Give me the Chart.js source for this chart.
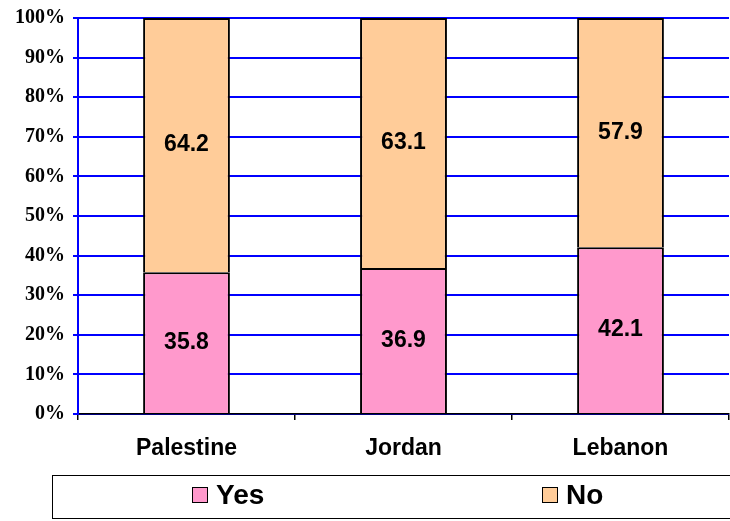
<!DOCTYPE html>
<html>
<head>
<meta charset="utf-8">
<script src="https://cdn.jsdelivr.net/npm/chart.js@4/dist/chart.umd.min.js"></script>
<style>
  html, body { margin: 0; padding: 0; background: #fff; overflow: hidden; }
  #wrap { position: relative; width: 730px; height: 521px; overflow: hidden; }
  #legend {
    position: absolute; left: 52px; top: 475px; width: 720px; height: 44px;
    border: 1.5px solid #000; box-sizing: border-box;
    font: bold 28px "Liberation Sans", Arial, sans-serif;
  }
  #legend .item { position: absolute; top: 3px; display: flex; align-items: center; }
  #legend .box { width: 14px; height: 14px; border: 1.5px solid #000; margin-right: 8px; }
</style>
</head>
<body>
<div id="wrap">
  <canvas id="c" width="730" height="521"></canvas>
  <div id="legend"></div>
</div>
<script>
const categories = ['Palestine', 'Jordan', 'Lebanon'];
const yesValues = [35.8, 36.9, 42.1];
const noValues = [64.2, 63.1, 57.9];
const yTicks = [0, 10, 20, 30, 40, 50, 60, 70, 80, 90, 100];

const SANS = '"Liberation Sans", Arial, sans-serif';
const SERIF = '"Liberation Serif", "Times New Roman", serif';

// value labels in the middle of each segment
const segmentLabels = {
  id: 'segmentLabels',
  afterDatasetsDraw(chart) {
    const ctx = chart.ctx;
    ctx.save();
    ctx.font = 'bold 23px ' + SANS;
    ctx.fillStyle = '#000';
    ctx.textAlign = 'center';
    ctx.textBaseline = 'middle';
    chart.data.datasets.forEach((ds, i) => {
      chart.getDatasetMeta(i).data.forEach((bar, j) => {
        ctx.fillText(ds.data[j].toFixed(1), bar.x, (bar.y + bar.base) / 2);
      });
    });
    ctx.restore();
  }
};

const chart = new Chart(document.getElementById('c'), {
  type: 'bar',
  data: {
    labels: categories,
    datasets: [
      { label: 'Yes', data: yesValues, backgroundColor: '#FF99CC', borderColor: '#000', borderWidth: 2 },
      { label: 'No', data: noValues, backgroundColor: '#FFCC99', borderColor: '#000', borderWidth: 2 }
    ]
  },
  options: {
    responsive: false,
    animation: false,
    layout: { padding: { top: 15, right: 1, bottom: 0, left: 0 } },
    datasets: { bar: { categoryPercentage: 0.4, barPercentage: 1 } },
    plugins: { legend: { display: false }, tooltip: { enabled: false } },
    scales: {
      x: {
        stacked: true,
        afterFit: s => { s.height = 107; },
        grid: { drawOnChartArea: false, drawTicks: true, tickLength: 6, color: '#000', lineWidth: 1.5 },
        border: { color: '#000', width: 1.5 },
        ticks: { color: '#000', padding: 15, font: { family: SANS, size: 23, weight: 'bold' } }
      },
      y: {
        stacked: true,
        min: 0, max: 100,
        afterFit: s => { s.width = 78; },
        afterBuildTicks: s => { s.ticks = yTicks.map(v => ({ value: v })); },
        grid: { color: '#0000FF', lineWidth: 2, tickLength: 5 },
        border: { color: '#0000FF', width: 2 },
        ticks: {
          color: '#000', padding: 8,
          font: { family: SERIF, size: 20, weight: 'bold', lineHeight: 1 },
          callback: v => v + '%'
        }
      }
    }
  },
  plugins: [segmentLabels]
});

// legend box below the chart
const legendPos = [139, 489];
const legend = document.getElementById('legend');
chart.data.datasets.forEach((ds, i) => {
  const item = document.createElement('div');
  item.className = 'item';
  item.style.left = legendPos[i] + 'px';
  item.innerHTML = '<span class="box" style="background:' + ds.backgroundColor + '"></span>' + ds.label;
  legend.appendChild(item);
});
</script>
</body>
</html>
